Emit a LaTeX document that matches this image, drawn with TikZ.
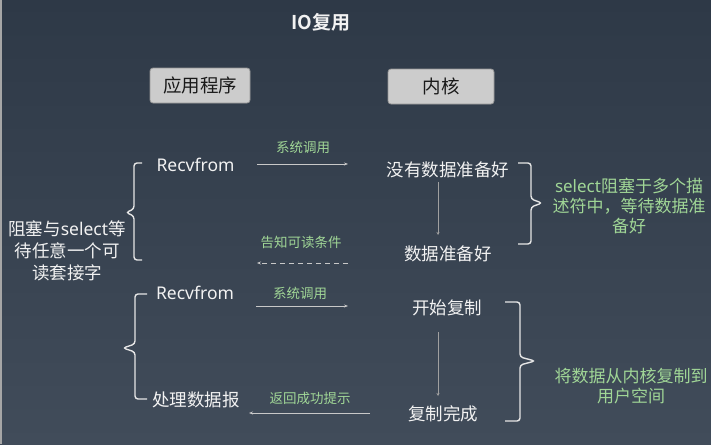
\documentclass[tikz,border=0pt]{standalone}
\usepackage{fontspec}
\setmainfont{Noto Sans CJK SC}[BoldFont={Noto Sans CJK SC Bold}]
\newfontfamily\lat{Noto Sans}
\usetikzlibrary{arrows.meta}
\definecolor{bgtop}{RGB}{46,57,71}
\definecolor{bgbot}{RGB}{65,76,90}
\definecolor{txt}{RGB}{242,242,242}
\definecolor{grn}{RGB}{160,214,150}
\definecolor{boxfill}{RGB}{204,204,204}
\definecolor{boxline}{RGB}{150,150,150}
\definecolor{arr}{RGB}{200,200,200}
\definecolor{vline}{RGB}{160,160,160}
\definecolor{brc}{RGB}{230,230,230}
\tikzset{
  main/.style={text=txt, inner sep=0pt, font=\fontsize{17.5}{22}\selectfont},
  lbl/.style={text=grn, inner sep=0pt, font=\fontsize{13.5}{16}\selectfont},
  note/.style={text=grn, inner sep=0pt, align=center, font=\fontsize{17}{20}\selectfont},
  hdr/.style={draw=boxline, line width=0.8pt, fill=boxfill, rounded corners=3pt, minimum width=100pt, minimum height=35pt, text=black!90, font=\fontsize{18.5}{20}\selectfont},
  callarrow/.style={draw=arr, line width=1pt, -{Stealth[length=4pt,width=3pt]}},
  dasharrow/.style={draw=arr, line width=1pt, dash pattern=on 5pt off 4pt, -{Stealth[length=4pt,width=3pt]}},
  downline/.style={draw=vline, line width=1pt, -{Stealth[length=3pt,width=3pt]}},
  bracepath/.style={draw=brc, line width=1.4pt, rounded corners=3pt}
}
\begin{document}
\begin{tikzpicture}[x=1pt,y=-1pt]
\useasboundingbox (0,0) rectangle (711,444);
\shade[top color=bgtop, bottom color=bgbot] (0,0) rectangle (711,444);
\draw[gray!70, line width=1.5pt] (0.75,0) -- (0.75,444);

\node[text=txt, font=\fontsize{19}{22}\selectfont\bfseries] (title) at (321,22) {IO复用};
\node[hdr] (app) at (200,85.5) {应用程序};
\node[hdr, minimum width=106pt] (kern) at (441,86.5) {内核};

% left column
\node[main] (rf1) at (195.5,165) {\lat Recvfrom};
\node[main] (rf2) at (195,293) {\lat Recvfrom};
\node[main] (proc) at (196,400) {处理数据报};
\node[main, align=center] (block) at (67,251) {阻塞与{\lat select}等\\待任意一个可\\读套接字};

% kernel column
\node[main] (nodata) at (448,170) {没有数据准备好};
\node[main] (ready) at (448,254) {数据准备好};
\node[main] (start) at (447,308) {开始复制};
\node[main] (done) at (443,414) {复制完成};

% notes
\node[note] (note1) at (629,206) {{\lat select}阻塞于多个描\\述符中，等待数据准\\备好};
\node[note] (note2) at (631,386) {将数据从内核复制到\\用户空间};

% arrows
\coordinate (a1s) at (257,164); \coordinate (a1e) at (348,164);
\draw[callarrow] (a1s) -- (a1e);
\node[lbl] (l1) at (303,147.5) {系统调用};

\coordinate (a2s) at (348,263); \coordinate (a2e) at (257,263);
\draw[dasharrow] (a2s) -- (a2e);
\node[lbl] (l2) at (301,242.5) {告知可读条件};

\coordinate (a3s) at (256,306); \coordinate (a3e) at (348,306);
\draw[callarrow] (a3s) -- (a3e);
\node[lbl] (l3) at (300,293) {系统调用};

\coordinate (a4s) at (370,413); \coordinate (a4e) at (249,413);
\draw[callarrow] (a4s) -- (a4e);
\node[lbl] (l4) at (310,398) {返回成功提示};

\draw[downline] (438,182) -- (438,235);
\draw[downline] (438,332) -- (438,396);

% braces
\draw[bracepath] (142,163) -- (134,163) -- (134,209) -- (126,212.5) -- (134,216) -- (134,260) -- (142,260);
\draw[bracepath] (147,294) -- (135,294) -- (135,344) -- (123,348) -- (135,352) -- (135,399) -- (147,399);
\draw[bracepath] (518,163) -- (531,163) -- (531,199) -- (542,203) -- (531,207) -- (531,244) -- (518,244);
\draw[bracepath] (505,302) -- (520,302) -- (520,357) -- (535,361) -- (520,365) -- (520,421) -- (505,421);
\end{tikzpicture}
\end{document}
